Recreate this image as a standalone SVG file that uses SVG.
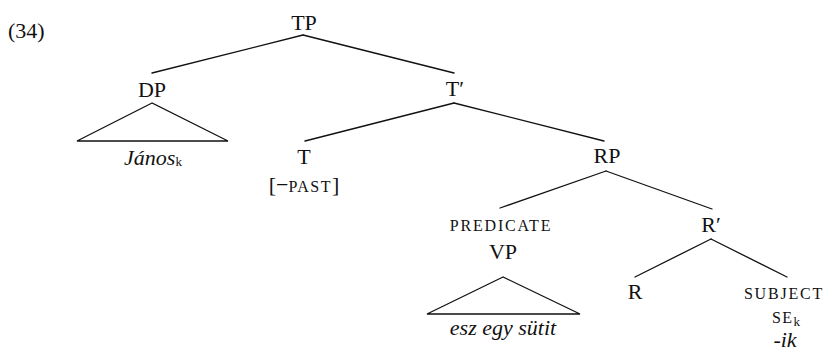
<svg xmlns="http://www.w3.org/2000/svg" width="824" height="356" viewBox="0 0 824 356">
  <style>
    text { font-family: "Liberation Serif", "DejaVu Serif", serif; fill: #111; }
    .lab { font-size: 22px; text-anchor: middle; }
    .it { font-style: italic; }
    .sc { font-size: 16px; letter-spacing: 1.8px; text-anchor: middle; }
    .sub { font-size: 13px; }
    .edges line, .edges polygon { stroke: #111; stroke-width: 1.3; fill: none; stroke-linecap: round; }
  </style>

  <text x="8" y="38" style="font-size:22px">(34)</text>

  <!-- connectors and roof triangles -->
  <g class="edges" id="edges">
    <line x1="303" y1="35" x2="152" y2="73"/>
    <line x1="303" y1="35" x2="454" y2="73"/>
    <polygon points="152,103 77,141 228,141"/>
    <line x1="454" y1="103" x2="305" y2="141"/>
    <line x1="454" y1="103" x2="604" y2="141"/>
    <line x1="606" y1="171" x2="500" y2="208"/>
    <line x1="606" y1="171" x2="712" y2="209"/>
    <polygon points="503,277 427,314 580,314"/>
    <line x1="711" y1="239" x2="635" y2="277"/>
    <line x1="711" y1="239" x2="787" y2="277"/>
  </g>

  <g id="tp"><text class="lab" x="304" y="30">TP</text></g>
  <g id="dp">
    <text class="lab" x="152" y="97">DP</text>
    <text class="lab it" x="153" y="165">János<tspan class="sub" style="font-style:normal" dy="1">k</tspan></text>
  </g>
  <g id="tbar"><text class="lab" x="455" y="96">T′</text></g>
  <g id="t">
    <text class="lab" x="304" y="164">T</text>
    <text class="lab" x="304" y="192">[−<tspan style="font-size:16px;letter-spacing:1.5px">PAST</tspan>]</text>
  </g>
  <g id="rp"><text class="lab" x="607" y="163">RP</text></g>
  <g id="vp">
    <text class="sc" x="501" y="231">PREDICATE</text>
    <text class="lab" x="503" y="259">VP</text>
    <text class="lab it" x="503" y="335">esz egy sütit</text>
  </g>
  <g id="rbar"><text class="lab" x="711" y="232">R′</text></g>
  <g id="r"><text class="lab" x="635" y="299">R</text></g>
  <g id="subject">
    <text class="sc" x="784" y="299">SUBJECT</text>
    <text class="lab" x="786" y="323"><tspan style="font-size:16px;letter-spacing:1.5px">SE</tspan><tspan class="sub" dy="3">k</tspan></text>
    <text class="lab it" x="785" y="347">-ik</text>
  </g>
</svg>
